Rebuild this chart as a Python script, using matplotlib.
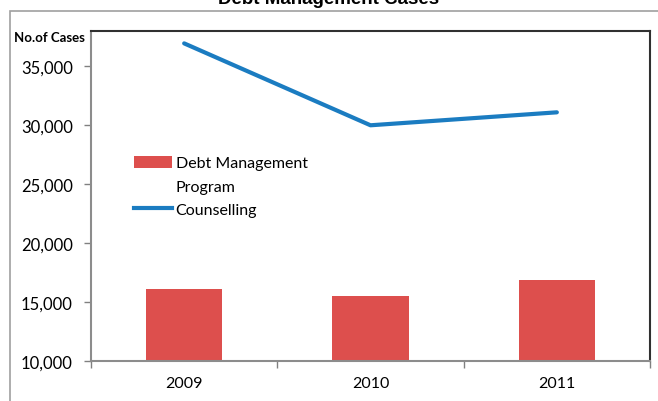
import matplotlib
matplotlib.use("Agg")
import matplotlib.pyplot as plt
from matplotlib.patches import Patch, Rectangle
from matplotlib.lines import Line2D
from matplotlib.ticker import FuncFormatter, FixedLocator

years = ["2009", "2010", "2011"]
dmp_cases = [16100, 15550, 16900]
counselling_cases = [36950, 30000, 31100]
yticks = [10000, 15000, 20000, 25000, 30000, 35000]

title = "Debt Management Cases"
ylabel = "No.of Cases"
bar_label = "Debt Management"
bar_label2 = "Program"
line_label = "Counselling"

bar_color = "#DD4F4D"
line_color = "#1B7CC1"
font = ["Lato", "DejaVu Sans"]

fig = plt.figure(figsize=(6.58, 4.02), dpi=100)
W, H = 658, 402

# outer chart border
fig.patches.append(Rectangle((10 / W, -0.1), 1.2, 1 - 12 / H + 0.1,
                             transform=fig.transFigure, fill=False,
                             edgecolor="#A0A0A0", linewidth=1.2))

ax = fig.add_axes([91 / W, 1 - 362 / H, (650 - 91) / W, (362 - 32) / H])
x = list(range(len(years)))
ax.bar(x, dmp_cases, width=0.41, color=bar_color, zorder=2)
ax.plot(x, counselling_cases, color=line_color, linewidth=3.0,
        solid_capstyle="round", zorder=3)

ax.set_xlim(-0.5, len(years) - 0.5)
ax.set_ylim(10000, 38000)
ax.set_yticks(yticks)
ax.yaxis.set_major_formatter(FuncFormatter(lambda v, p: f"{int(v):,}"))
ax.set_xticks(x)
ax.set_xticklabels(years)
ax.xaxis.set_minor_locator(FixedLocator([i - 0.5 for i in range(len(years) + 1)]))
ax.tick_params(axis="x", which="major", length=0, pad=11)
ax.tick_params(axis="x", which="minor", length=5, color="#808080", width=1)
ax.tick_params(axis="y", length=5, color="#808080", width=1, pad=8)
for lab in ax.get_xticklabels():
    lab.set_fontfamily(font)
    lab.set_fontsize(11.5)
for lab in ax.get_yticklabels():
    lab.set_fontfamily(font)
    lab.set_fontsize(12)

for s in ["left", "bottom"]:
    ax.spines[s].set_color("#8C8C8C")
    ax.spines[s].set_linewidth(1.5)
for s in ["top", "right"]:
    ax.spines[s].set_color("#303030")
    ax.spines[s].set_linewidth(1.5)

fig.text(0.5, 1 - 4 / H, title, ha="center", va="baseline",
         fontsize=13.5, fontweight="bold", family=["Liberation Sans", "DejaVu Sans"])
fig.text(14 / W, 1 - 38 / H, ylabel, ha="left", va="center",
         fontsize=9.5, fontweight="bold", family=font)

handles = [Patch(facecolor=bar_color, edgecolor="none"),
           Patch(facecolor="none", edgecolor="none"),
           Line2D([0], [0], color=line_color, linewidth=3.0)]
leg = fig.legend(handles, [bar_label, bar_label2, line_label],
                 loc="upper left", bbox_to_anchor=(134 / W, 1 - 157 / H),
                 frameon=False, borderpad=0, borderaxespad=0,
                 handlelength=2.4, handletextpad=0.2, labelspacing=0.55,
                 handleheight=0.75, prop={"family": font, "size": 11.5})

fig.savefig("out.png", dpi=100)
